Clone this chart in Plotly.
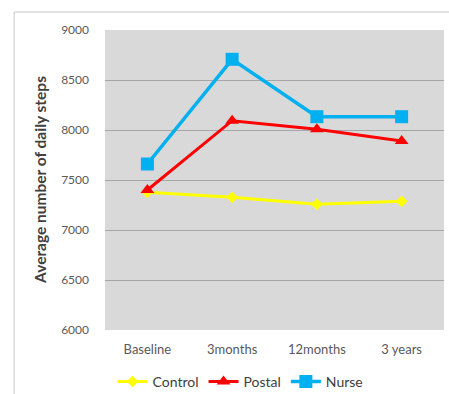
import plotly.graph_objects as go

categories = ["Baseline", "3months", "12months", "3 years"]
control = [7377, 7327, 7257, 7287]
postal = [7400, 8093, 8007, 7890]
nurse = [7660, 8707, 8133, 8133]
y_ticks = [6000, 6500, 7000, 7500, 8000, 8500, 9000]

FONT = "Lato, Liberation Sans, sans-serif"

fig = go.Figure()
fig.add_trace(go.Scatter(x=categories, y=control, name="Control", mode="lines+markers",
                         line=dict(color="#ffff00", width=3),
                         marker=dict(symbol="diamond", size=9, color="#ffff00")))
fig.add_trace(go.Scatter(x=categories, y=postal, name="Postal", mode="lines+markers",
                         line=dict(color="#ff0000", width=3),
                         marker=dict(symbol="triangle-up", size=12, color="#ff0000")))
fig.add_trace(go.Scatter(x=categories, y=nurse, name="Nurse", mode="lines+markers",
                         line=dict(color="#00b0f0", width=3.5),
                         marker=dict(symbol="square", size=13, color="#00b0f0")))

fig.update_layout(
    width=449, height=394,
    margin=dict(l=105, r=5, t=30, b=64, autoexpand=False),
    paper_bgcolor="white", plot_bgcolor="#d9d9d9",
    font=dict(family=FONT, size=11, color="#595959"),
    showlegend=True,
    legend=dict(orientation="h", x=0.4, xanchor="center", y=-0.173, yanchor="middle",
                font=dict(size=14, color="#404040"), itemwidth=30, tracegroupgap=0,
                bgcolor="rgba(0,0,0,0)"),
    xaxis=dict(range=[-0.5, 3.5], showgrid=False, zeroline=False, showline=False,
               ticks="", ticklabelstandoff=10, tickfont=dict(size=13, color="#595959")),
    yaxis=dict(range=[6000, 9000], tickvals=y_ticks, showgrid=True, gridcolor="#a6a6a6",
               gridwidth=1, zeroline=False, showline=False, ticks="", ticklabelstandoff=15,
               tickfont=dict(size=12, color="#595959")),
    annotations=[
        dict(text="<b>Average number of daily steps</b>", xref="paper", yref="paper",
             x=-0.192, y=0.5, xanchor="center", yanchor="middle", textangle=-90,
             showarrow=False, font=dict(size=15.5, color="#404040", family=FONT)),
    ],
    shapes=[
        dict(type="line", xref="paper", yref="paper", x0=-0.268, x1=-0.268, y0=1.06, y1=-0.3,
             line=dict(color="#c8c8c8", width=1)),
        dict(type="line", xref="paper", yref="paper", x0=-0.268, x1=1.05, y0=1.06, y1=1.06,
             line=dict(color="#c8c8c8", width=1)),
    ],
)

fig.write_html("out.html")
